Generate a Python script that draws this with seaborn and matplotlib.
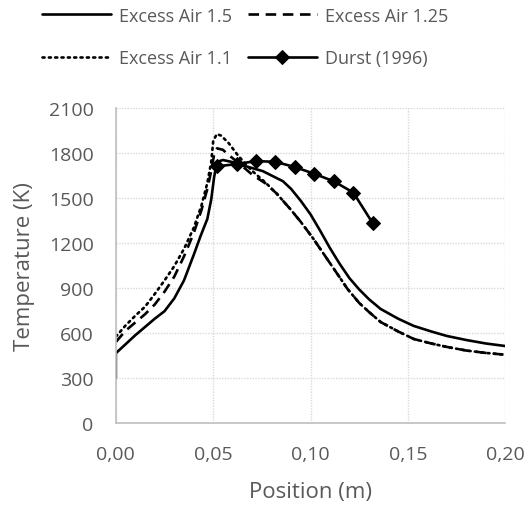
import numpy as np
import matplotlib
matplotlib.use("Agg")
import matplotlib.pyplot as plt
from matplotlib.ticker import FuncFormatter
import seaborn as sns

# Excess Air 1.5 (solid)
x_15 = [0.0, 0.0, 0.005, 0.010, 0.015, 0.020, 0.025, 0.030, 0.035, 0.040,
        0.0435, 0.047, 0.049, 0.0505, 0.052, 0.055, 0.060, 0.0667, 0.0755, 0.0858,
        0.090, 0.095, 0.100, 0.105, 0.110, 0.115, 0.120, 0.125, 0.130, 0.136,
        0.145, 0.153, 0.162, 0.170, 0.180, 0.190, 0.200]
T_15 = [300, 465, 525, 585, 640, 695, 745, 830, 950, 1120,
        1245, 1360, 1490, 1640, 1740, 1752, 1738, 1711, 1678, 1611,
        1560, 1480, 1390, 1280, 1165, 1060, 965, 890, 825, 760,
        695, 647, 610, 580, 553, 530, 513]

# Excess Air 1.25 (dashed)
x_125 = [0.0, 0.005, 0.010, 0.015, 0.020, 0.025, 0.030, 0.035, 0.040, 0.044,
         0.047, 0.049, 0.0505, 0.052, 0.055, 0.058, 0.063, 0.070, 0.077, 0.0825,
         0.0895, 0.095, 0.1015, 0.105, 0.110, 0.115, 0.119, 0.125, 0.130, 0.136,
         0.145, 0.153, 0.162, 0.170, 0.180, 0.190, 0.200]
T_125 = [540, 615, 670, 725, 790, 875, 975, 1110, 1265, 1420,
         1560, 1680, 1790, 1830, 1820, 1785, 1733, 1655, 1595, 1530,
         1427, 1340, 1227, 1160, 1065, 970, 893, 800, 740, 673,
         610, 560, 530, 507, 483, 467, 455]

# Excess Air 1.1 (dotted)
x_11 = [0.0, 0.005, 0.010, 0.015, 0.020, 0.025, 0.030, 0.035, 0.040, 0.044,
        0.047, 0.049, 0.050, 0.0518, 0.054, 0.0578, 0.063, 0.070, 0.077, 0.0825,
        0.0895, 0.095, 0.1015, 0.105, 0.110, 0.115, 0.119, 0.125, 0.130, 0.136,
        0.145, 0.153, 0.162, 0.170, 0.180, 0.190, 0.200]
T_11 = [575, 650, 715, 775, 860, 950, 1045, 1160, 1300, 1450,
        1600, 1740, 1877, 1925, 1915, 1867, 1778, 1680, 1600, 1530,
        1427, 1340, 1227, 1160, 1065, 970, 893, 800, 740, 673,
        610, 560, 530, 507, 483, 467, 455]

# Durst (1996) measurements
x_durst = [0.052, 0.062, 0.072, 0.082, 0.092, 0.102, 0.112, 0.122, 0.132]
T_durst = [1710, 1725, 1745, 1740, 1705, 1660, 1610, 1535, 1330]

sns.set_style("white")
plt.rcParams['font.family'] = ['Open Sans', 'DejaVu Sans']

grey = "#595959"
fig, ax = plt.subplots(figsize=(5.29, 5.06), dpi=100)
fig.subplots_adjust(left=0.219, right=0.955, bottom=0.162, top=0.785)

lw = 1.9
sns.lineplot(x=x_15, y=T_15, ax=ax, color="black", lw=lw, estimator=None, sort=False,
             label="Excess Air 1.5")
sns.lineplot(x=x_125, y=T_125, ax=ax, color="black", lw=lw, estimator=None, sort=False,
             linestyle=(0, (4, 2.5)), label="Excess Air 1.25")
sns.lineplot(x=x_11, y=T_11, ax=ax, color="black", lw=lw, estimator=None, sort=False,
             linestyle=(0, (0.8, 1.6)), dash_capstyle="round", label="Excess Air 1.1")
sns.lineplot(x=x_durst, y=T_durst, ax=ax, color="black", lw=lw, estimator=None, sort=False,
             marker="D", markersize=7, markeredgecolor="black", label="Durst (1996)")

ax.set_xlim(0, 0.20)
ax.set_ylim(0, 2100)
ax.set_xticks(np.arange(0, 0.201, 0.05))
ax.set_yticks(np.arange(0, 2101, 300))
ax.xaxis.set_major_formatter(FuncFormatter(lambda v, p: f"{v:.2f}".replace(".", ",")))
ax.grid(True, color="#d9d9d9", linestyle=(0, (1, 1)), lw=1.0)
ax.set_axisbelow(True)
for s in ["top", "right"]:
    ax.spines[s].set_visible(False)
for s in ["left", "bottom"]:
    ax.spines[s].set_color("#bfbfbf")
    ax.spines[s].set_linewidth(1.2)
ax.tick_params(axis="y", length=0, labelsize=14, colors=grey, pad=16)
ax.tick_params(axis="x", length=0, labelsize=14, colors=grey, pad=16)

ax.set_xlabel("Position (m)", fontsize=16, color=grey, labelpad=13)
ax.set_ylabel("Temperature (K)", fontsize=16, color=grey, labelpad=10)

# legend: row 1 = 1.5, 1.25 ; row 2 = 1.1, Durst
h, l = ax.get_legend_handles_labels()
order = [0, 2, 1, 3]
ax.get_legend().remove()
fig.legend([h[i] for i in order], [l[i] for i in order],
           loc="upper left", bbox_to_anchor=(42 / 529, 0.985), ncol=2, frameon=False,
           fontsize=13, handlelength=3.8, columnspacing=0.9, labelcolor=grey,
           handletextpad=0.45, labelspacing=1.35, borderpad=0, borderaxespad=0)

plt.savefig("out.png", dpi=100)
